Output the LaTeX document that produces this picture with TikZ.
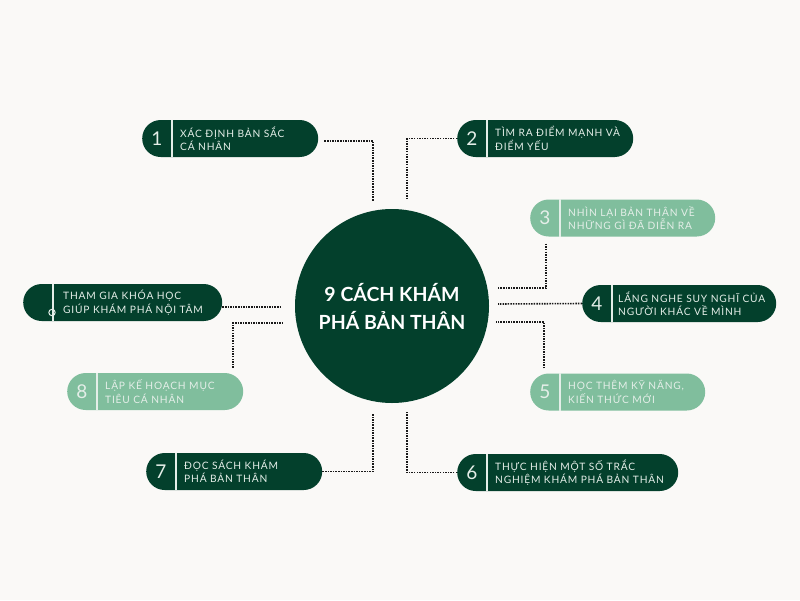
\documentclass[tikz,border=0pt]{standalone}
\usepackage{fontspec}
\setmainfont{Lato}
\newfontfamily\stepfont[LetterSpace=8]{Lato}
\usepackage{tikz}

\definecolor{pinedark}{HTML}{03402C}
\definecolor{mintlight}{HTML}{80BE9D}
\definecolor{paper}{HTML}{FAF9F7}
\definecolor{softtext}{HTML}{E4EEE8}

\tikzset{
  pill/.style={rounded corners=18.5pt, minimum height=37pt, inner sep=0pt, anchor=west},
  darkpill/.style={pill, fill=pinedark},
  lightpill/.style={pill, fill=mintlight},
  numtxt/.style={text=softtext, font=\fontsize{19}{19}\selectfont, inner sep=0pt},
  steptxt/.style={text=softtext, anchor=west, align=left, inner sep=0pt,
    font=\stepfont\fontsize{10.2}{13.5}\selectfont},
  divider/.style={draw=softtext, line width=1.2pt},
  dotline/.style={dash pattern=on 1.5pt off 1.1pt, line width=1.6pt, black!90}
}

\begin{document}
\begin{tikzpicture}[x=1pt,y=-1pt]
			\fill[paper] (0,0) rectangle (800,600);
			\useasboundingbox (0,0) rectangle (800,600);
			% center
			\node[circle, fill=pinedark, minimum size=194pt, text=white, align=center,
			  font=\bfseries\fontsize{19.5}{28}\selectfont] (hub) at (392,306) {9 CÁCH KHÁM\\PHÁ BẢN THÂN};
			% boxes
			\node[darkpill, minimum width=176pt] (b1) at (142,138.5) {};
			\node[darkpill, minimum width=176pt] (b2) at (457,138.5) {};
			\node[lightpill, minimum width=185pt] (b3) at (530,218) {};
			\node[darkpill, minimum width=194pt] (b4) at (582,303.5) {};
			\node[lightpill, minimum width=175pt] (b5) at (530,392) {};
			\node[darkpill, minimum width=221pt] (b6) at (457,472.5) {};
			\node[darkpill, minimum width=176pt] (b7) at (146,471.5) {};
			\node[lightpill, minimum width=176pt] (b8) at (67,391.5) {};
			\node[darkpill, minimum width=199pt] (b9) at (23,302.5) {};
			% numbers and dividers
			\foreach \b/\n in {b1/1,b2/2,b3/3,b4/4,b5/5,b6/6,b7/7,b8/8}{
			  \node[numtxt] at ([xshift=15pt]\b.west) {\n};
			  \draw[divider] ([xshift=30pt]\b.north west) -- ([xshift=30pt]\b.south west);
			}
			\draw[divider] ([xshift=30pt]b9.north west) -- ([xshift=30pt]b9.south west);
			\draw[softtext, line width=1pt] ([shift={(29pt,-10pt)}]b9.west) circle (3.2pt);
			% labels
			\node[steptxt] (t1) at ([xshift=38pt]b1.west) {XÁC ĐỊNH BẢN SẮC\\CÁ NHÂN};
			\node[steptxt] (t2) at ([xshift=38pt]b2.west) {TÌM RA ĐIỂM MẠNH VÀ\\ĐIỂM YẾU};
			\node[steptxt] (t3) at ([xshift=38pt]b3.west) {NHÌN LẠI BẢN THÂN VỀ\\NHỮNG GÌ ĐÃ DIỄN RA};
			\node[steptxt] (t4) at ([xshift=36pt]b4.west) {LẮNG NGHE SUY NGHĨ CỦA\\NGƯỜI KHÁC VỀ MÌNH};
			\node[steptxt] (t5) at ([xshift=38pt]b5.west) {HỌC THÊM KỸ NĂNG,\\KIẾN THỨC MỚI};
			\node[steptxt] (t6) at ([xshift=38pt]b6.west) {THỰC HIỆN MỘT SỐ TRẮC\\NGHIỆM KHÁM PHÁ BẢN THÂN};
			\node[steptxt] (t7) at ([xshift=38pt]b7.west) {ĐỌC SÁCH KHÁM\\PHÁ BẢN THÂN};
			\node[steptxt] (t8) at ([xshift=38pt]b8.west) {LẬP KẾ HOẠCH MỤC\\TIÊU CÁ NHÂN};
			\node[steptxt] (t9) at ([xshift=40pt]b9.west) {THAM GIA KHÓA HỌC\\GIÚP KHÁM PHÁ NỘI TÂM};
			% connectors
			\coordinate (c1) at (373,201);
			\coordinate (c2) at (407,198);
			\coordinate (c3) at (498,288);
			\coordinate (c4) at (498,304);
			\coordinate (c5) at (496,322);
			\coordinate (c6) at (407,412);
			\coordinate (c7) at (373,413);
			\coordinate (c8) at (282,323);
			\coordinate (c9) at (280,307);
			\draw[dotline] ([shift={(6pt,-2.5pt)}]b1.east) -| (c1);
			\draw[dotline] (b2.west) -| (c2);
			\draw[dotline] ([shift={(16pt,-7pt)}]b3.south west) |- (c3);
			\draw[dotline] (b4.west) -- (c4);
			\draw[dotline] ([shift={(14pt,5pt)}]b5.north west) |- (c5);
			\draw[dotline] (b6.west) -| (c6);
			\draw[dotline] (b7.east) -| (c7);
			\draw[dotline] ([shift={(166pt,5pt)}]b8.north west) |- (c8);
			\draw[dotline] ([yshift=-4.5pt]b9.east) -- (c9);
		\end{tikzpicture}
\end{document}
